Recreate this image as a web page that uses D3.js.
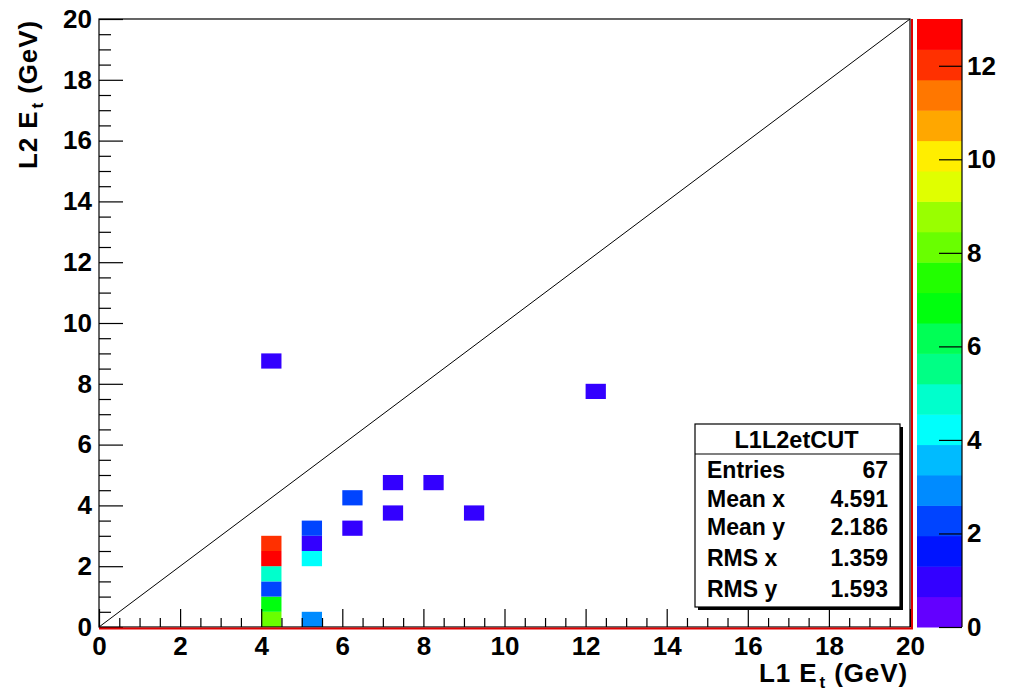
<!DOCTYPE html>
<html>
<head>
<meta charset="utf-8">
<script src="https://cdn.jsdelivr.net/npm/d3@7"></script>
<style>
  html, body { margin: 0; padding: 0; background: #fff; }
  svg { display: block; font-family: "Liberation Sans", Arial, Helvetica, sans-serif; font-weight: bold; }
  .tick text { font-size: 26px; font-weight: bold; fill: #000; }
  .tick line { stroke: #000; stroke-width: 1.2; }
</style>
</head>
<body>
<svg id="chart" width="1011" height="691"></svg>
<script>
// 2D histogram L1L2etCUT: occupied bins (lower bin edges, GeV) and their counts
const binWidth = 0.5;
const binXLow = [4, 4, 4, 4, 4, 4, 4, 5, 5, 5, 5, 6, 6, 7, 8, 7, 9, 12];
const binYLow = [0, 0.5, 1, 1.5, 2, 2.5, 8.5, 0, 2, 2.5, 3, 3, 4, 4.5, 4.5, 3.5, 3.5, 7.5];
const binCounts = [8, 7, 2, 5, 13, 12, 1, 3, 4, 1, 2, 1, 2, 1, 1, 1, 1, 1];

// axis ranges and ticks
const xRange = [0, 20];
const yRange = [0, 20];
const xMajorTicks = [0, 2, 4, 6, 8, 10, 12, 14, 16, 18, 20];
const yMajorTicks = [0, 2, 4, 6, 8, 10, 12, 14, 16, 18, 20];
const zRange = [0, 13];
const zTicks = [0, 2, 4, 6, 8, 10, 12];

// 20-level "pretty" palette, violet -> red
const palette = [
  "#6300ff", "#3300ff", "#0014ff", "#0044ff", "#008bff",
  "#00bbff", "#00fffc", "#00ffcc", "#00ff85", "#00ff55",
  "#00ff0e", "#22ff00", "#69ff00", "#99ff00", "#e0ff00",
  "#ffee00", "#ffa700", "#ff7700", "#ff3000", "#ff0000"
];

// axis titles: main part, subscript, unit
const xTitleParts = ["L1 E", "t", " (GeV)"];
const yTitleParts = ["L2 E", "t", " (GeV)"];

// statistics box
const statsTitle = "L1L2etCUT";
const statsLabels = ["Entries", "Mean x", "Mean y", "RMS x", "RMS y"];
const statsValues = ["67", "4.591", "2.186", "1.359", "1.593"];

const svg = d3.select("#chart");
svg.append("rect").attr("width", 1011).attr("height", 691).attr("fill", "#fff");

const frame = { left: 99, right: 910, top: 19, bottom: 627 };
const x = d3.scaleLinear().domain(xRange).range([frame.left, frame.right]);
const y = d3.scaleLinear().domain(yRange).range([frame.bottom, frame.top]);

// contour level -> colour
const nLevels = palette.length;
const levelStep = (zRange[1] - zRange[0]) / nLevels;
function colorFor(v) {
  const k = Math.min(nLevels - 1, Math.max(0, Math.floor((v - zRange[0]) / levelStep)));
  return palette[k];
}

// histogram cells
const cells = binXLow.map((xl, i) => ({ xl, yl: binYLow[i], n: binCounts[i] }));
svg.append("g").selectAll("rect").data(cells).join("rect")
  .attr("x", d => x(d.xl))
  .attr("y", d => y(d.yl + binWidth))
  .attr("width", d => x(d.xl + binWidth) - x(d.xl))
  .attr("height", d => y(d.yl) - y(d.yl + binWidth))
  .attr("fill", d => colorFor(d.n));

// diagonal L1 = L2
svg.append("line")
  .attr("x1", x(0)).attr("y1", y(0))
  .attr("x2", x(20)).attr("y2", y(20))
  .attr("stroke", "#000").attr("stroke-width", 1);

// frame
svg.append("rect")
  .attr("x", frame.left).attr("y", frame.top)
  .attr("width", frame.right - frame.left).attr("height", frame.bottom - frame.top)
  .attr("fill", "none").attr("stroke", "#000").attr("stroke-width", 1.2);

// x axis: major + minor ticks pointing inward
const xMinor = d3.range(xRange[0], xRange[1] + 0.001, 0.5).filter(v => v % 2 !== 0);
const gx = svg.append("g").attr("transform", `translate(0,${frame.bottom})`);
gx.call(d3.axisBottom(x).tickValues(xMajorTicks).tickSize(-18).tickPadding(10).tickFormat(d3.format("d")));
gx.append("g").call(d3.axisBottom(x).tickValues(xMinor).tickSize(-9).tickFormat(""));
gx.selectAll(".domain").remove();

// y axis
const yMinor = d3.range(yRange[0], yRange[1] + 0.001, 0.5).filter(v => v % 2 !== 0);
const gy = svg.append("g").attr("transform", `translate(${frame.left},0)`);
gy.call(d3.axisLeft(y).tickValues(yMajorTicks).tickSize(-24).tickPadding(7).tickFormat(d3.format("d")));
gy.append("g").call(d3.axisLeft(y).tickValues(yMinor).tickSize(-12).tickFormat(""));
gy.selectAll(".domain").remove();

// red histogram outline along bottom and right edges
svg.append("path")
  .attr("d", `M${frame.left},${frame.bottom + 1.5}H${frame.right + 2}V${frame.top}`)
  .attr("fill", "none").attr("stroke", "#e00000").attr("stroke-width", 2);

// colour bar
const cb = { left: 917, right: 962 };
const z = d3.scaleLinear().domain(zRange).range([frame.bottom, frame.top]);
const bands = d3.range(nLevels).map(k => ({ lo: zRange[0] + k * levelStep, hi: zRange[0] + (k + 1) * levelStep, c: palette[k] }));
svg.append("g").selectAll("rect").data(bands).join("rect")
  .attr("x", cb.left).attr("width", cb.right - cb.left)
  .attr("y", d => z(d.hi)).attr("height", d => z(d.lo) - z(d.hi) + 0.5)
  .attr("fill", d => d.c);
const gz = svg.append("g").attr("transform", `translate(${cb.right},0)`);
gz.call(d3.axisRight(z).tickValues(zTicks).tickSize(-23).tickPadding(5).tickFormat(d3.format("d")));
gz.select(".domain").attr("stroke", "#000").attr("stroke-width", 1.2).attr("d", `M0,${frame.bottom}V${frame.top}`);

// axis titles with subscripted "t"
function axisTitle(sel, parts) {
  sel.attr("text-anchor", "end").attr("font-size", 26).attr("font-weight", "bold")
    .attr("letter-spacing", 0.9);
  sel.append("tspan").text(parts[0]);
  sel.append("tspan").attr("font-size", 17).attr("dy", 6).attr("dx", 2).text(parts[1]);
  sel.append("tspan").attr("dy", -6).text(parts[2]);
}
svg.append("text")
  .attr("x", 908).attr("y", 682)
  .call(axisTitle, xTitleParts);
svg.append("text")
  .attr("transform", "translate(37,20) rotate(-90)")
  .call(axisTitle, yTitleParts);

// statistics box
const sb = { x: 695, y: 424, w: 205, h: 183, titleH: 30 };
const gs = svg.append("g");
gs.append("rect").attr("x", sb.x + 3).attr("y", sb.y + 3).attr("width", sb.w).attr("height", sb.h).attr("fill", "#000");
gs.append("rect").attr("x", sb.x).attr("y", sb.y).attr("width", sb.w).attr("height", sb.h)
  .attr("fill", "#fff").attr("stroke", "#000").attr("stroke-width", 1.2);
gs.append("line").attr("x1", sb.x).attr("x2", sb.x + sb.w)
  .attr("y1", sb.y + sb.titleH).attr("y2", sb.y + sb.titleH)
  .attr("stroke", "#000").attr("stroke-width", 1.2);
gs.append("text").attr("x", sb.x + sb.w / 2 - 1).attr("y", 448)
  .attr("text-anchor", "middle").attr("font-size", 23.5).attr("font-weight", "bold").text(statsTitle);
const rowBase = [478, 507, 535, 566, 597];
statsLabels.forEach((lab, i) => {
  gs.append("text").attr("x", 707).attr("y", rowBase[i])
    .attr("font-size", 23).attr("font-weight", "bold").text(lab);
  gs.append("text").attr("x", 888).attr("y", rowBase[i]).attr("text-anchor", "end")
    .attr("font-size", 23).attr("font-weight", "bold").text(statsValues[i]);
});
</script>
</body>
</html>
